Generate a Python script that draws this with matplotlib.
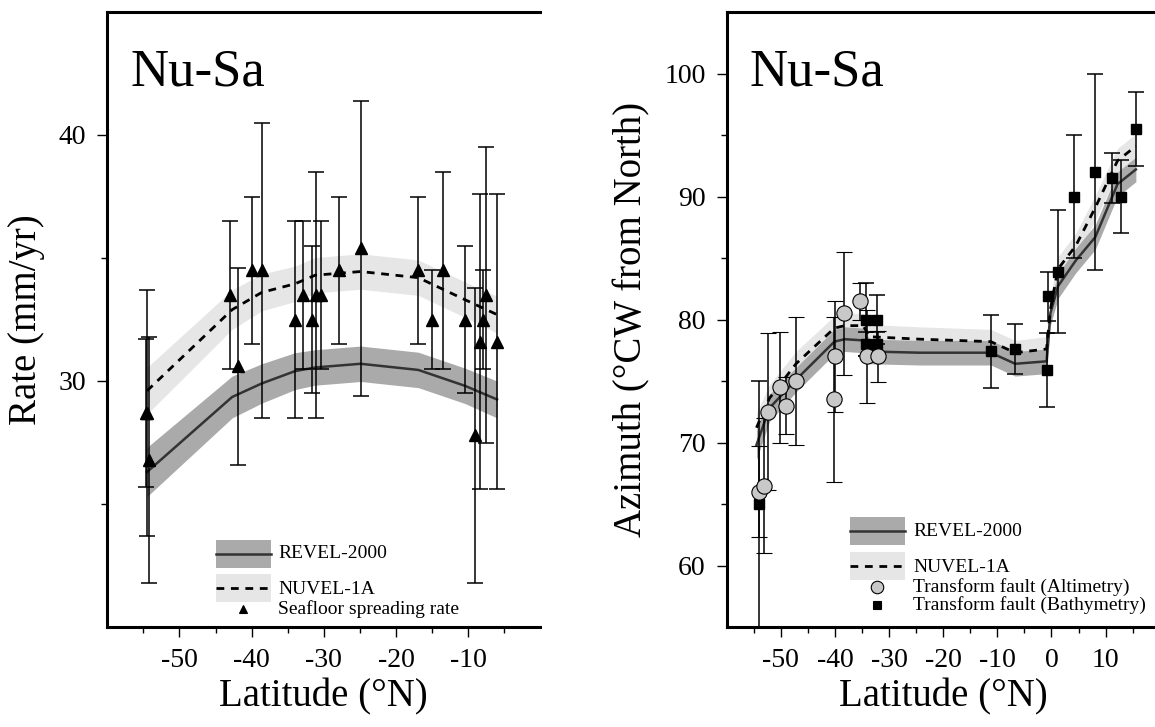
import numpy as np
import matplotlib
matplotlib.use("Agg")
import matplotlib.pyplot as plt
from matplotlib.patches import Rectangle
from matplotlib.lines import Line2D

plt.rcParams["font.family"] = ["Liberation Serif", "DejaVu Serif"]
plt.rcParams["axes.unicode_minus"] = False

# ── data: left panel, spreading rate ──────────────────────
rate_lat = [-54.6, -54.5, -54.2, -43.0, -41.9, -40.0, -38.6, -34.0, -32.9, -31.6,
            -31.1, -30.4, -27.9, -24.9, -17.0, -15.0, -13.5, -10.4, -9.1, -8.3,
            -8.0, -7.5, -6.0]
rate_val = [28.7, 28.7, 26.8, 33.5, 30.6, 34.5, 34.5, 32.5, 33.5, 32.5,
            33.5, 33.5, 34.5, 35.4, 34.5, 32.5, 34.5, 32.5, 27.8, 31.6,
            32.5, 33.5, 31.6]
rate_err = [3.0, 5.0, 5.0, 3.0, 4.0, 3.0, 6.0, 4.0, 3.0, 3.0,
            5.0, 3.0, 3.0, 6.0, 3.0, 2.0, 4.0, 3.0, 6.0, 6.0,
            2.0, 6.0, 6.0]

mod_lat_l   = [-54.5, -42.7, -38.6, -34.0, -31.2, -24.9, -16.9, -10.4, -6.0]
revel_rate  = [26.3, 29.35, 29.9, 30.4, 30.55, 30.7, 30.45, 29.8, 29.25]
revel_rsig  = [1.0, 0.85, 0.8, 0.75, 0.72, 0.72, 0.72, 0.72, 0.75]
nuvel_rate  = [29.6, 32.9, 33.6, 33.95, 34.3, 34.45, 34.2, 33.3, 32.7]
nuvel_rsig  = [0.95, 0.8, 0.75, 0.72, 0.72, 0.72, 0.72, 0.72, 0.75]

# ── data: right panel, azimuth ────────────────────────────
alt_lat = [-54.1, -53.1, -52.3, -50.1, -49.0, -47.2, -40.1, -39.9, -38.3, -35.3, -34.0, -32.0]
alt_az  = [66.0, 66.5, 72.5, 74.5, 73.0, 75.0, 73.5, 77.0, 80.5, 81.5, 77.0, 77.0]
alt_err = [3.7, 5.5, 6.4, 4.5, 2.3, 5.2, 6.7, 4.5, 5.0, 1.5, 3.8, 2.1]

bat_lat = [-54.1, -34.2, -32.2, -34.2, -32.2, -11.2, -6.7, -0.9, -0.6, 1.3,
           4.2, 8.1, 11.1, 12.8, 15.7]
bat_az  = [65.0, 80.0, 80.0, 78.0, 78.0, 77.4, 77.6, 75.9, 81.9, 83.9,
           90.0, 92.0, 91.5, 90.0, 95.5]
bat_err = [10.0, 3.0, 2.0, 1.0, 1.0, 3.0, 2.0, 3.0, 2.0, 5.0,
           5.0, 8.0, 2.0, 3.0, 3.0]

mod_lat_r = [-54.5, -52.1, -47.2, -40.1, -38.2, -34.8, -33.6, -24.3, -11.2, -6.7,
             -0.9, -0.2, 1.2, 4.5, 8.1, 12.2, 15.6]
revel_az  = [69.8, 72.8, 75.1, 78.2, 78.4, 78.3, 77.4, 77.3, 77.3, 76.4,
             76.6, 80.5, 82.7, 84.8, 86.7, 91.0, 92.2]
revel_asig = [1.2, 1.1, 1.0, 1.0, 1.0, 1.0, 1.0, 1.0, 1.0, 1.0,
              1.0, 1.0, 1.0, 1.0, 1.0, 1.0, 1.0]
nuvel_az  = [71.2, 73.6, 76.4, 79.3, 79.5, 79.5, 78.6, 78.4, 78.2, 77.3,
             77.6, 80.8, 84.1, 86.0, 89.1, 92.9, 94.1]
nuvel_asig = [1.2, 1.1, 1.0, 1.0, 1.0, 1.0, 1.0, 1.0, 1.0, 1.0,
              1.0, 1.0, 1.0, 1.0, 1.0, 1.0, 1.0]

# ── style ─────────────────────────────────────────────────
C_REVEL_BAND = "#aaaaaa"
C_REVEL_LINE = "#333333"
C_NUVEL_BAND = "#e6e6e6"
C_ALT = "#c8c8c8"
DASH = (0, (2.8, 2.4))

W, H = 1155, 727
fig = plt.figure(figsize=(W / 100, H / 100), dpi=100)

AX_TOP, AX_BOT, AX_W = 12, 627, 433
def px_axes(left_px):
    return fig.add_axes([left_px / W, (H - AX_BOT) / H, AX_W / W, (AX_BOT - AX_TOP) / H])

ax1 = px_axes(107.3)
ax2 = px_axes(726.7)


def models(ax, lat, rv, rs, nv, ns):
    lat, rv, rs, nv, ns = map(np.asarray, (lat, rv, rs, nv, ns))
    ax.fill_between(lat, nv - ns, nv + ns, color=C_NUVEL_BAND, lw=0, zorder=1)
    ax.fill_between(lat, rv - rs, rv + rs, color=C_REVEL_BAND, lw=0, zorder=2)
    ax.plot(lat, rv, color=C_REVEL_LINE, lw=1.8, zorder=3)
    ax.plot(lat, nv, color="black", lw=2.0, ls=DASH, zorder=3)


def style(ax, xlim, ylim, xmaj, xmin, ymaj, ymin, ylabel):
    ax.set_xlim(*xlim)
    ax.set_ylim(*ylim)
    ax.set_xticks(xmaj)
    ax.set_xticks(xmin, minor=True)
    ax.set_yticks(ymaj)
    ax.set_yticks(ymin, minor=True)
    ax.tick_params(which="both", direction="out", width=1.0, labelsize=20, pad=8)
    ax.tick_params(which="major", length=7)
    ax.tick_params(which="minor", length=4)
    for s in ax.spines.values():
        s.set_linewidth(2.2)
    ax.set_xlabel("Latitude (°N)", fontsize=28, labelpad=4)
    ax.set_ylabel(ylabel, fontsize=28, labelpad=10)
    ax.text(0.053, 0.88, "Nu-Sa", transform=ax.transAxes, fontsize=38)


def to_ax(ax_left_px, px, py):
    return (px - ax_left_px) / AX_W, (AX_BOT - py) / (AX_BOT - AX_TOP)


def legend_band(ax, left_px, x0, x1, ytop, ybot, face, ls, lc, label, ytext, xt):
    a0, b0 = to_ax(left_px, x0, ybot)
    a1, b1 = to_ax(left_px, x1, ytop)
    ax.add_patch(Rectangle((a0, b0), a1 - a0, b1 - b0, transform=ax.transAxes,
                           facecolor=face, lw=0, zorder=5))
    ym = (b0 + b1) / 2
    ax.add_line(Line2D([a0, a1], [ym, ym], transform=ax.transAxes, color=lc,
                       lw=1.8 if ls == "-" else 2.0, ls=ls, zorder=6))
    tx, ty = to_ax(left_px, xt, ytext)
    ax.text(tx, ty, label, transform=ax.transAxes, fontsize=14, va="center", zorder=6)


def legend_mark(ax, left_px, xm, ym, marker, ms, face, label, xt):
    mx, my = to_ax(left_px, xm, ym)
    ax.plot([mx], [my], marker=marker, ms=ms, mfc=face, mec="black", mew=0.8,
            transform=ax.transAxes, zorder=6, ls="none")
    tx, _ = to_ax(left_px, xt, ym)
    ax.text(tx, my, label, transform=ax.transAxes, fontsize=14, va="center", zorder=6)


# ── left panel ────────────────────────────────────────────
models(ax1, mod_lat_l, revel_rate, revel_rsig, nuvel_rate, nuvel_rsig)
ax1.errorbar(rate_lat, rate_val, yerr=rate_err, fmt="^", ms=8, color="black",
             ecolor="black", elinewidth=1.1, capsize=5.5, capthick=1.1, zorder=4)
style(ax1, (-60, 0), (20, 45), [-50, -40, -30, -20, -10], np.arange(-55, 0, 5),
      [30, 40], [25, 35], "Rate (mm/yr)")
ax1.spines["right"].set_visible(False)

legend_band(ax1, 107.3, 216, 271, 540, 568, C_REVEL_BAND, "-", C_REVEL_LINE,
            "REVEL-2000", 553, 278)
legend_band(ax1, 107.3, 216, 271, 574, 602, C_NUVEL_BAND, DASH, "black",
            "NUVEL-1A", 589, 278)
legend_mark(ax1, 107.3, 243, 609, "^", 6, "black", "Seafloor spreading rate", 278)

# ── right panel ───────────────────────────────────────────
models(ax2, mod_lat_r, revel_az, revel_asig, nuvel_az, nuvel_asig)
ax2.errorbar(bat_lat, bat_az, yerr=bat_err, fmt="s", ms=7, color="black",
             ecolor="black", elinewidth=1.1, capsize=5.5, capthick=1.1, zorder=4)
ax2.errorbar(alt_lat, alt_az, yerr=alt_err, fmt="o", ms=11, mfc=C_ALT, mec="black",
             mew=0.8, ecolor="black", elinewidth=1.1, capsize=5.5, capthick=1.1, zorder=4)
style(ax2, (-60, 20), (55, 105), [-50, -40, -30, -20, -10, 0, 10], np.arange(-55, 20, 5),
      [60, 70, 80, 90, 100], [65, 75, 85, 95], "Azimuth (°CW from North)")

legend_band(ax2, 726.7, 850, 905, 517, 545, C_REVEL_BAND, "-", C_REVEL_LINE,
            "REVEL-2000", 531, 913)
legend_band(ax2, 726.7, 850, 905, 552, 580, C_NUVEL_BAND, DASH, "black",
            "NUVEL-1A", 567, 913)
legend_mark(ax2, 726.7, 877, 587, "o", 9, C_ALT, "Transform fault (Altimetry)", 913)
legend_mark(ax2, 726.7, 877, 605, "s", 6, "black", "Transform fault (Bathymetry)", 913)

fig.savefig("out.png", dpi=100)
